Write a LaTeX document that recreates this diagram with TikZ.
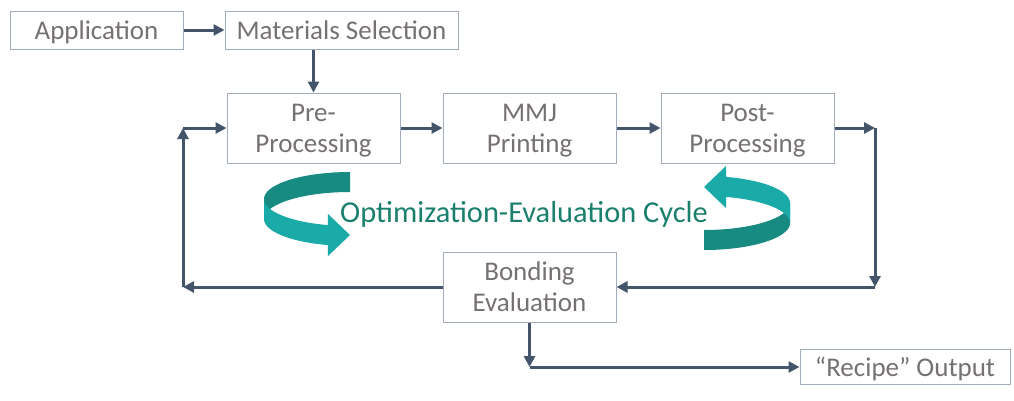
\documentclass[tikz,border=0pt]{standalone}
\usepackage{fontspec}
\setmainfont{Carlito}
\usetikzlibrary{arrows.meta}
\definecolor{boxline}{HTML}{A0ABBB}
\definecolor{txtgray}{HTML}{767171}
\definecolor{conncol}{HTML}{44546A}
\definecolor{tealdark}{HTML}{178A82}
\definecolor{teallight}{HTML}{1AABA8}
\definecolor{tealtext}{HTML}{1A7F6C}
\tikzset{
  box/.style={draw=boxline, line width=1pt, fill=white, text=txtgray, align=center,
    font=\fontsize{27}{31}\selectfont, inner sep=0pt},
  onebox/.style={box, text height=18pt, text depth=0pt},
  twobox/.style={box, minimum width=173pt, minimum height=70pt, text height=48pt, text depth=0pt},
  conn/.style={draw=conncol, line width=3pt, -{Triangle[length=11pt,width=11pt]}},
}
\begin{document}
\begin{tikzpicture}[x=1pt,y=-1pt]
\useasboundingbox (0,0) rectangle (1014,400);
% boxes
\node[onebox, minimum width=173pt, minimum height=38pt] (app) at (96.5,30) {Application};
\node[onebox, minimum width=233pt, minimum height=38pt] (mat) at (341.5,30) {Materials Selection};
\node[twobox] (pre) at (313.5,128) {Pre-\\Processing};
\node[twobox] (mmj) at (529.5,128) {MMJ\\Printing};
\node[twobox] (post) at (747.5,128) {Post-\\Processing};
\node[twobox] (bond) at (529.5,287) {Bonding\\Evaluation};
\node[onebox, minimum width=210pt, minimum height=35pt] (rec) at (905,367) {“Recipe” Output};
% corner points
\coordinate (cR) at (875,128);
\coordinate (cB) at (875,287);
\coordinate (cL) at (183,287);
\coordinate (cT) at (183,128);
\coordinate (cD) at (529.5,367);
% connectors
\draw[conn] (app.east) -- (mat.west);
\draw[conn] (mat.south -| pre.north) -- (pre.north);
\draw[conn] (pre.east) -- (mmj.west);
\draw[conn] (mmj.east) -- (post.west);
\draw[conn] (post.east) -- (cR);
\draw[conn] (cR) -- (cB);
\draw[conn] (cB) -- (bond.east);
\draw[conn] (bond.west) -- (cL);
\draw[conn] (cL) -- (cT);
\draw[conn] (cT) -- (pre.west);
\draw[conn] (bond.south) -- (cD);
\draw[conn] (cD) -- (rec.west);
% cycle arrows
\foreach \ang in {0,180}{
\begin{scope}[rotate around={\ang:(527,211)}]
\fill[tealdark] plot[domain=90:180, smooth, samples=25] ({350+86*cos(\x)},{199-27*sin(\x)})
  -- plot[domain=180:90, smooth, samples=25] ({350+86*cos(\x)},{219-27*sin(\x)}) -- cycle;
\fill[teallight] plot[domain=180:255, smooth, samples=25] ({350+86*cos(\x)},{199-27*sin(\x)})
  -- (328,214) -- (350,235) -- (328,256)
  -- plot[domain=255:180, smooth, samples=25] ({350+86*cos(\x)},{219-27*sin(\x)}) -- cycle;
\end{scope}
}
\node[text=tealtext, font=\fontsize{30.4}{36}\selectfont, anchor=base, inner sep=0pt] (cyc) at (524,222) {Optimization-Evaluation Cycle};
\end{tikzpicture}
\end{document}
